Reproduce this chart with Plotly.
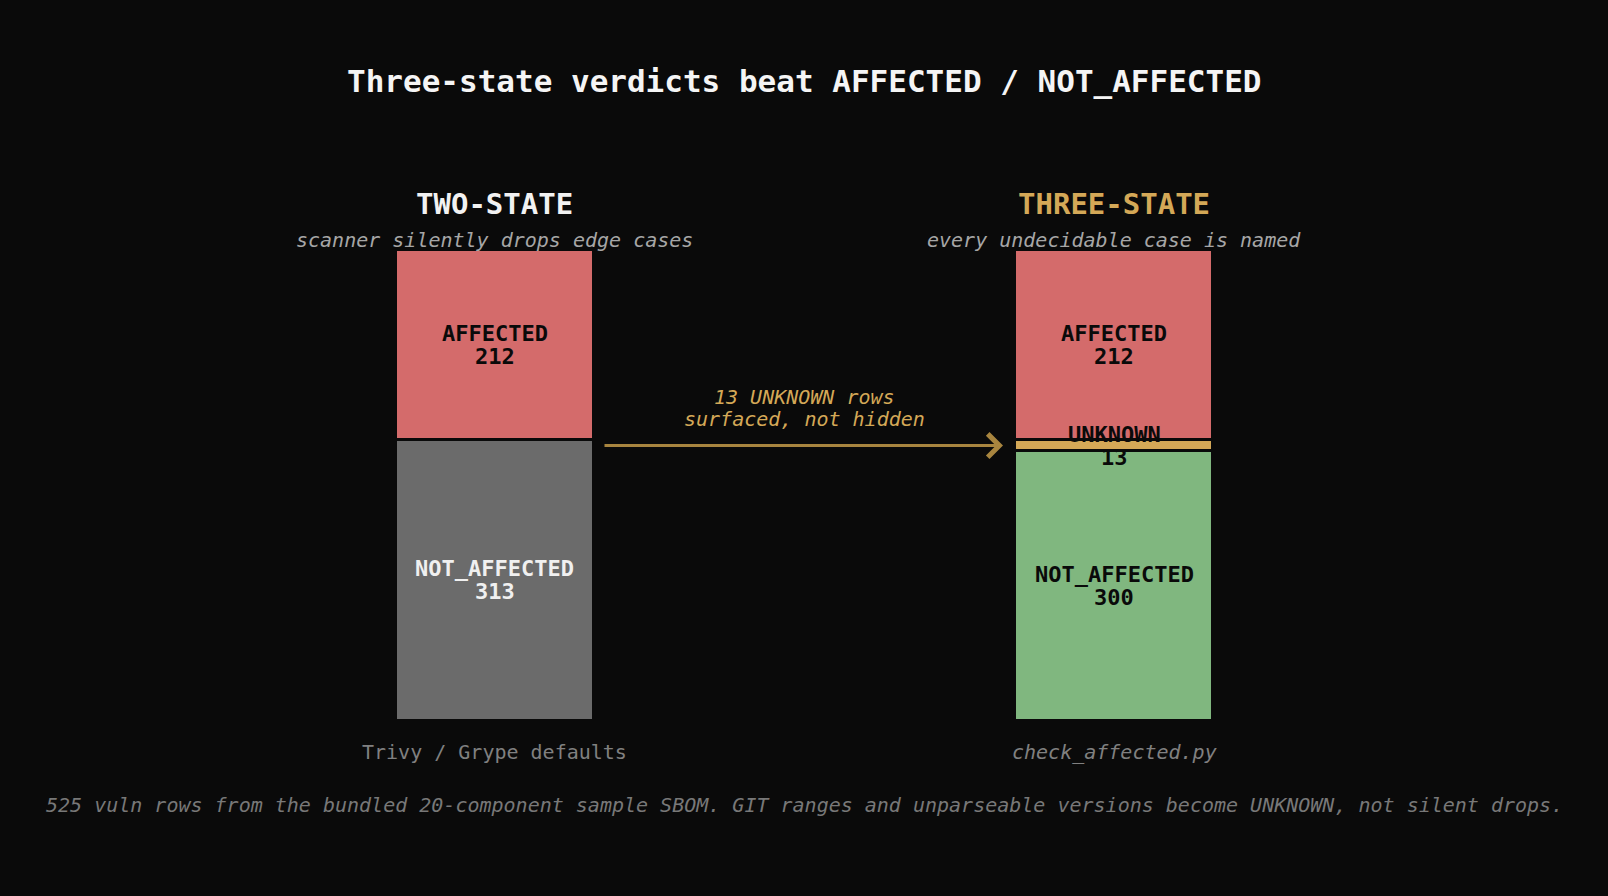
import plotly.graph_objects as go

# ---------------- data ----------------
scanners = ["TWO-STATE", "THREE-STATE"]
subtitles = ["scanner silently drops edge cases", "every undecidable case is named"]
tools = ["Trivy / Grype defaults", "check_affected.py"]
affected = [212, 212]
unknown = [0, 13]
not_affected = [313, 300]
total_rows = 525

title = "Three-state verdicts beat AFFECTED / NOT_AFFECTED"
arrow_text = ["13 UNKNOWN rows", "surfaced, not hidden"]
footnote = ("525 vuln rows from the bundled 20-component sample SBOM. "
            "GIT ranges and unparseable versions become UNKNOWN, not silent drops.")

# ---------------- styling ----------------
BG = "#0a0a0a"
C_AFF = "#d46b6b"
C_UNK = "#d4a857"
C_NA2 = "#6b6b6b"
C_NA3 = "#80b77f"
C_ARROW = "#a8853f"
FONT = "DejaVu Sans Mono"

W, H = 1608, 896
# pixel geometry of the plotting frame
X0_PX, X1_PX = 494.5, 1114.0
PPU = X1_PX - X0_PX
Y0_PX, YTOP_PX = 720.5, 249.5
PPR = (Y0_PX - YTOP_PX) / total_rows
BAR_W = 198 / PPU

def px(p):
    return (p - X0_PX) / PPU

def py(p):
    return (Y0_PX - p) / PPR

xpos = [0, 1]

fig = go.Figure()
line = dict(color=BG, width=3)
fig.add_trace(go.Bar(x=xpos, y=not_affected, width=BAR_W,
                     marker=dict(color=[C_NA2, C_NA3], line=line), hoverinfo="skip"))
fig.add_trace(go.Bar(x=[xpos[1]], y=[unknown[1]], width=BAR_W,
                     marker=dict(color=C_UNK, line=line), hoverinfo="skip"))
fig.add_trace(go.Bar(x=xpos, y=affected, width=BAR_W,
                     marker=dict(color=C_AFF, line=line), hoverinfo="skip"))

ann = []

def text(x, y, s, size, color, bold=False, italic=False, xref="x", yref="y", yshift=0):
    ann.append(dict(x=x, y=y, xref=xref, yref=yref, text=s, showarrow=False,
                    xanchor="center", yanchor="middle", yshift=yshift,
                    font=dict(family=FONT, size=size, color=color,
                              weight="bold" if bold else "normal",
                              style="italic" if italic else "normal")))

LS = 11.5  # half line spacing for two-line bar labels
for i, xv in enumerate(xpos):
    na, un, af = not_affected[i], unknown[i], affected[i]
    na_col = "#f0f0f0" if i == 0 else BG
    # NOT_AFFECTED
    c = na / 2
    text(xv, c, "NOT_AFFECTED", 22, na_col, bold=True, yshift=LS)
    text(xv, c, str(na), 22, na_col, bold=True, yshift=-LS)
    # UNKNOWN
    if un > 0:
        c = na + un / 2
        text(xv, c, "UNKNOWN", 22, BG, bold=True, yshift=LS)
        text(xv, c, str(un), 22, BG, bold=True, yshift=-LS)
    # AFFECTED
    c = na + un + af / 2
    text(xv, c, "AFFECTED", 22, BG, bold=True, yshift=LS)
    text(xv, c, str(af), 22, BG, bold=True, yshift=-LS)
    # headings
    text(xv, py(204), scanners[i], 29, "#f2f2f2" if i == 0 else C_UNK, bold=True)
    text(xv, py(240), subtitles[i], 20, "#a6a6a6", italic=True)
    text(xv, py(752), tools[i], 20, "#808080", italic=(i == 1))

# title and footnote
text(px(W / 2), py(81), title, 31, "#f5f5f5", bold=True)
text(px(W / 2), py(805), footnote, 20, "#787878", italic=True)

# arrow annotation
text(px(804), py(397), arrow_text[0], 20, C_UNK, italic=True)
text(px(804), py(418.5), arrow_text[1], 20, C_UNK, italic=True)
y_arrow = not_affected[1] + unknown[1] / 2
ann.append(dict(x=px(1003), y=y_arrow, ax=px(603), ay=y_arrow,
                xref="x", yref="y", axref="x", ayref="y", text="",
                showarrow=True, arrowhead=4, arrowsize=1.5, arrowwidth=3,
                arrowcolor=C_ARROW, standoff=0, startstandoff=0))

fig.update_layout(
    barmode="stack",
    width=W, height=H,
    margin=dict(l=0, r=0, t=0, b=0),
    paper_bgcolor=BG, plot_bgcolor=BG,
    showlegend=False,
    bargap=0,
    xaxis=dict(range=[px(0), px(W)], visible=False, fixedrange=True),
    yaxis=dict(range=[py(H), py(0)], visible=False, fixedrange=True),
    annotations=ann,
    font=dict(family=FONT),
)

fig.write_html("out.html", config={"displayModeBar": False},
               post_script="document.body.style.margin='0';document.body.style.background='#0a0a0a';")
